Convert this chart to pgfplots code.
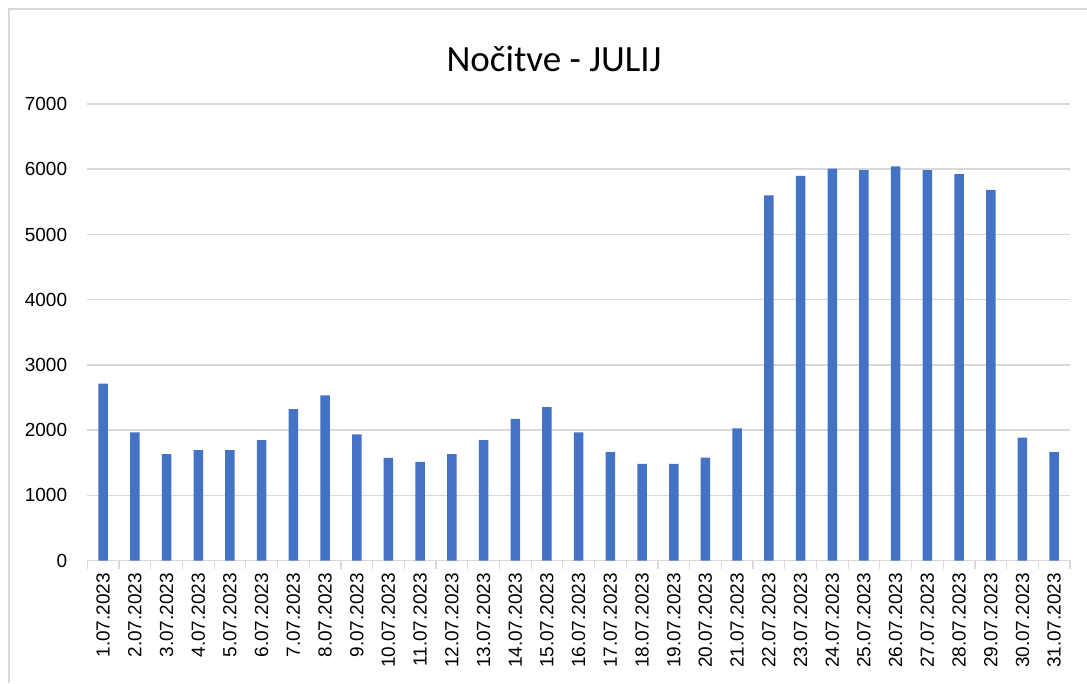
\documentclass[border=0pt]{standalone}
\usepackage{pgfplots}
\pgfplotsset{compat=1.18}
\usepackage{fontspec}
\setmainfont{Liberation Sans}
\newfontfamily\titlefont{Carlito}
\definecolor{barblue}{HTML}{4472C4}
\definecolor{gridgray}{HTML}{D9D9D9}
\begin{document}
\begin{tikzpicture}[x=1pt,y=1pt]
\useasboundingbox (0,0) rectangle (1087,683);
\fill[white] (0,0) rectangle (1087,683);
\draw[gridgray, line width=1.5pt] (9,0) -- (9,674) -- (1087,674);
\node[anchor=base, inner sep=0pt, font=\titlefont\fontsize{37}{44}\selectfont] at (554,611) {Nočitve - JULIJ};
\begin{axis}[
  at={(87.3pt,122.3pt)}, anchor=south west,
  scale only axis, width=982.7pt, height=456.7pt,
  xmin=-0.5, xmax=30.5, ymin=0, ymax=7000,
  ytick={0,1000,...,7000},
  xtick={0,...,30},
  xticklabels={1.07.2023,2.07.2023,3.07.2023,4.07.2023,5.07.2023,6.07.2023,7.07.2023,8.07.2023,9.07.2023,10.07.2023,11.07.2023,12.07.2023,13.07.2023,14.07.2023,15.07.2023,16.07.2023,17.07.2023,18.07.2023,19.07.2023,20.07.2023,21.07.2023,22.07.2023,23.07.2023,24.07.2023,25.07.2023,26.07.2023,27.07.2023,28.07.2023,29.07.2023,30.07.2023,31.07.2023},
  minor xtick={-0.5,0.5,...,30.5},
  major tick length=0pt,
  minor tick length=8pt,
  tick align=outside,
  xtick pos=bottom, ytick pos=left,
  tick style={gridgray, line width=1.2pt},
  minor tick style={gridgray, line width=1.2pt},
  ymajorgrids,
  major grid style={gridgray, line width=1.5pt},
  axis lines*=left,
  x axis line style={gridgray, line width=1.5pt},
  y axis line style={draw=none},
  /pgf/number format/assume math mode=true,
  /pgf/number format/1000 sep={},
  ticklabel style={font=\fontsize{19}{22}\selectfont, text=black},
  xticklabel style={rotate=90, anchor=east, inner sep=0pt},
  xticklabel shift=12pt,
  yticklabel style={anchor=east, inner sep=0pt},
  yticklabel shift=20pt,
  clip=false,
]
\addplot[ybar, bar width=9.5pt, bar shift=0pt, fill=barblue, draw=none] coordinates {
(0,2715) (1,1965) (2,1635) (3,1695) (4,1695) (5,1850) (6,2325) (7,2535)
(8,1935) (9,1575) (10,1515) (11,1635) (12,1850) (13,2175) (14,2355)
(15,1965) (16,1665) (17,1485) (18,1485) (19,1580) (20,2030) (21,5600)
(22,5900) (23,6010) (24,5985) (25,6045) (26,5985) (27,5925) (28,5685)
(29,1885) (30,1665)
};
\end{axis}
\end{tikzpicture}
\end{document}
